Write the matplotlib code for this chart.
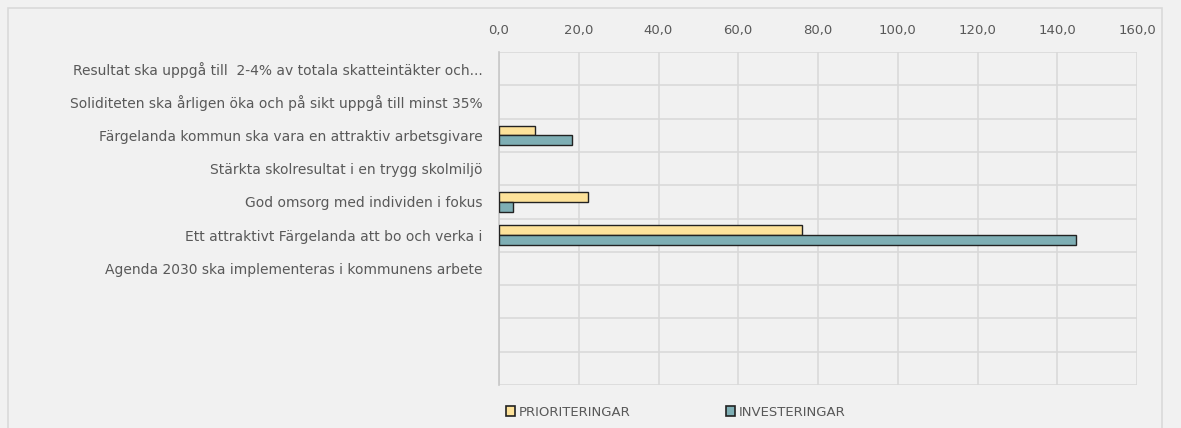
import numpy as np
import matplotlib as mpl
mpl.use('Agg')
import matplotlib.pyplot as plt
from matplotlib.patches import Rectangle

plt.rcParams['font.family'] = ['Liberation Sans Narrow', 'DejaVu Sans Condensed', 'DejaVu Sans']

categories = [
    'Resultat ska uppgå till  2-4% av totala skatteintäkter och...',
    'Soliditeten ska årligen öka och på sikt uppgå till minst 35%',
    'Färgelanda kommun ska vara en attraktiv arbetsgivare',
    'Stärkta skolresultat i en trygg skolmiljö',
    'God omsorg med individen i fokus',
    'Ett attraktivt Färgelanda att bo och verka i',
    'Agenda 2030 ska implementeras i kommunens arbete',
    '', '', '',
]
prioriteringar = [0, 0, 9.0, 0, 22.2, 76.0, 0, 0, 0, 0]
investeringar = [0, 0, 18.2, 0, 3.6, 144.8, 0, 0, 0, 0]
xticks = [0, 20, 40, 60, 80, 100, 120, 140, 160]

bg = '#f1f1f1'
grid_col = '#d9d9d9'
text_col = '#595959'

fig = plt.figure(figsize=(11.81, 4.28), dpi=100, facecolor=bg)
fig.patches.append(Rectangle((8 / 1181, -0.05), 1154 / 1181, 1.05 - 8 / 428,
                             transform=fig.transFigure, fill=False,
                             edgecolor=grid_col, linewidth=1.2))

ax = fig.add_axes([499 / 1181, 1 - 385 / 428, 638 / 1181, 333 / 428])
ax.set_facecolor(bg)

y = np.arange(len(categories))
h = 0.29
# no outline on empty bars
lw_p = [1.0 if v > 0 else 0 for v in prioriteringar]
lw_i = [1.0 if v > 0 else 0 for v in investeringar]
ax.barh(y - h / 2, prioriteringar, height=h, color='#fde29a', edgecolor='#222222',
        linewidth=lw_p, label='PRIORITERINGAR', zorder=3)
ax.barh(y + h / 2, investeringar, height=h, color='#7eaeb4', edgecolor='#222222',
        linewidth=lw_i, label='INVESTERINGAR', zorder=3)

ax.set_ylim(len(categories) - 0.5, -0.5)
ax.set_xlim(0, 160)
ax.set_yticks(y)
ax.set_yticklabels(categories, fontsize=10, color=text_col)
ax.set_yticks(np.arange(len(categories) + 1) - 0.5, minor=True)
ax.xaxis.tick_top()
ax.set_xticks(xticks)
ax.set_xticklabels([('%.1f' % v).replace('.', ',') for v in xticks], fontsize=9.5, color=text_col)
ax.tick_params(axis='both', which='both', length=0)
ax.tick_params(axis='x', pad=11)
ax.tick_params(axis='y', pad=12)

ax.grid(True, axis='x', color=grid_col, linewidth=1.2, zorder=0)
ax.grid(True, axis='y', which='minor', color=grid_col, linewidth=1.2, zorder=0)
for s in ax.spines.values():
    s.set_visible(False)
ax.spines['left'].set_visible(True)
ax.spines['left'].set_color('#c8c8c8')
ax.spines['left'].set_linewidth(1.2)

handles, labels = ax.get_legend_handles_labels()
leg = fig.legend(handles, labels, loc='center left', bbox_to_anchor=(494 / 1181, 1 - 412 / 428),
                 ncol=2, frameon=False, fontsize=9.5, handlelength=0.7, handleheight=0.7,
                 handletextpad=0.3, columnspacing=7.2)
for t in leg.get_texts():
    t.set_color(text_col)
for p in leg.get_patches():
    p.set_linewidth(1.2)

fig.savefig('out.png', dpi=100, facecolor=bg)
